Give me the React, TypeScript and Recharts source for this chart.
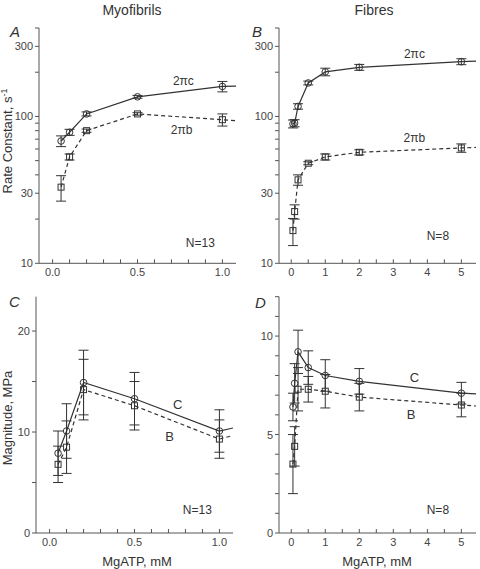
import React from 'react';
import {ErrorBar, Line, LineChart, ReferenceDot, XAxis, YAxis} from 'recharts';

const FONT = '"Liberation Sans", Arial, Helvetica, sans-serif';
const INK = '#333333';
const AXIS_INK = '#555555';
const TICK_INK = '#444444';

// MgATP concentrations, mM
const myofibrilConc = [0.05, 0.1, 0.2, 0.5, 1.0];
const fibreConc = [0.05, 0.1, 0.2, 0.5, 1, 2, 5];
// the fitted lines run on to the end of the x axis
const myofibrilTailConc = 1.08;
const fibreTailConc = 5.43;

// A: myofibril rate constants, s-1 (2πc, 2πb)
const myoRateC = [68, 78, 104, 136, 160];
const myoRateCErr = [5.7, 3.7, 3.3, 3, 13];
const myoRateB = [33, 53, 80, 104, 95];
const myoRateBErr = [6.5, 2.5, 2, 2, 9];
const myoRateTail = [161, 93.5];

// B: fibre rate constants, s-1
const fibreRateC = [89, 90, 117, 169, 201, 216, 236];
const fibreRateCErr = [5.5, 5, 5, 5, 12, 10, 11];
const fibreRateB = [16.7, 22.5, 37, 48, 53, 57, 61];
const fibreRateBErr = [3.5, 2.5, 3, 1.1, 2.5, 2.3, 4];
const fibreRateTail = [238, 61.5];

// C: myofibril magnitudes, MPa (C, B)
const myoMagC = [7.9, 10.1, 14.9, 13.3, 10.1];
const myoMagCErr = [2.2, 2.7, 3.2, 2.6, 2.1];
const myoMagB = [6.8, 8.5, 14.2, 12.6, 9.3];
const myoMagBErr = [1.8, 2.6, 3.0, 2.4, 1.9];
const myoMagTail = [10.4, 9.65];

// D: fibre magnitudes, MPa
const fibreMagC = [6.4, 7.6, 9.2, 8.4, 8.0, 7.7, 7.1];
const fibreMagCErr = [0.7, 1.0, 1.1, 0.85, 0.8, 0.65, 0.55];
const fibreMagB = [3.5, 4.4, 7.3, 7.3, 7.2, 6.9, 6.5];
const fibreMagBErr = [1.5, 1.0, 1.1, 0.65, 0.85, 0.7, 0.6];
const fibreMagTail = [7.07, 6.45];

// ticks
const myoTicks = [0, 0.1, 0.2, 0.3, 0.4, 0.5, 0.6, 0.7, 0.8, 0.9, 1.0];
const myoTickLabels = [0, 0.5, 1];
const fibreTicks = [0, 0.5, 1, 1.5, 2, 2.5, 3, 3.5, 4, 4.5, 5];
const fibreTickLabels = [0, 1, 2, 3, 4, 5];
const rateTicks = [10, 20, 30, 40, 50, 60, 70, 80, 90, 100, 200, 300, 400];
const rateTickLabels = [10, 30, 100, 300];
const myoMagTicks = [0, 5, 10, 15, 20];
const myoMagTickLabels = [0, 10, 20];
const fibreMagTicks = [0, 1, 2, 3, 4, 5, 6, 7, 8, 9, 10, 11, 12];
const fibreMagTickLabels = [0, 5, 10];

type Row = {x: number; c: number; cErr: number | null; b: number; bErr: number | null; mark: boolean};

function buildRows(xs: number[], c: number[], cErr: number[], b: number[], bErr: number[],
                   tailX: number, tail: number[]): Row[] {
    const rows: Row[] = xs.map((x, i) => ({x, c: c[i], cErr: cErr[i], b: b[i], bErr: bErr[i], mark: true}));
    rows.push({x: tailX, c: tail[0], cErr: null, b: tail[1], bErr: null, mark: false});
    return rows;
}

const hasLabel = (labels: number[], v: number) => labels.some(l => Math.abs(l - v) < 1e-9);

const xTick = (labels: number[], fmt: (v: number) => string) => (props: any) => {
    const {x, y, payload} = props;
    const v = payload.value;
    return (
        <g>
            <line x1={x} x2={x} y1={y} y2={y - 4} stroke={AXIS_INK}/>
            {hasLabel(labels, v) && (
                <text x={x} y={y + 13} textAnchor="middle" fontSize={11} fill={TICK_INK} fontFamily={FONT}>
                    {fmt(v)}
                </text>
            )}
        </g>
    );
};

const yTick = (labels: number[]) => (props: any) => {
    const {x, y, payload} = props;
    const v = payload.value;
    return (
        <g>
            <line x1={x - 4} x2={x} y1={y} y2={y} stroke={AXIS_INK}/>
            {hasLabel(labels, v) && (
                <text x={x - 6} y={y + 4} textAnchor="end" fontSize={11} fill={TICK_INK} fontFamily={FONT}>
                    {v}
                </text>
            )}
        </g>
    );
};

const circleDot = (props: any) => {
    const {cx, cy, payload, index} = props;
    if (!payload?.mark || cx == null || cy == null) return <g key={`c-${index}`}/>;
    return <circle key={`c-${index}`} cx={cx} cy={cy} r={3.3} fill="none" stroke={INK} strokeWidth={1}/>;
};

const squareDot = (props: any) => {
    const {cx, cy, payload, index} = props;
    if (!payload?.mark || cx == null || cy == null) return <g key={`s-${index}`}/>;
    return <rect key={`s-${index}`} x={cx - 3} y={cy - 3} width={6} height={6} fill="none" stroke={INK} strokeWidth={1}/>;
};

const note = (x: number, y: number, text: string, size = 12) => (
    <ReferenceDot x={x} y={y} r={0} fill="none" stroke="none" ifOverflow="visible"
                  label={{value: text, position: 'center', fill: INK, fontSize: size, fontFamily: FONT}}/>
);

type PanelProps = {
    left: number;
    top: number;
    width: number;
    height: number;
    // plot area edges, in px inside the panel
    plot: {top: number; right: number; bottom: number; left: number};
    rows: Row[];
    xDomain: [number, number];
    xTicks: number[];
    xLabels: number[];
    xFmt: (v: number) => string;
    yDomain: [number, number];
    yTicks: number[];
    yLabels: number[];
    logY?: boolean;
    children?: React.ReactNode;
};

function Panel(p: PanelProps) {
    // axes are 1px thick so that Recharts still draws them
    const margin = {
        top: p.plot.top,
        right: p.width - p.plot.right,
        bottom: p.height - p.plot.bottom - 1,
        left: p.plot.left - 1,
    };
    return (
        <div style={{position: 'absolute', left: p.left, top: p.top}}>
            <LineChart width={p.width} height={p.height} data={p.rows} margin={margin}>
                <XAxis type="number" dataKey="x" domain={p.xDomain} ticks={p.xTicks} interval={0}
                       allowDataOverflow height={1} tickSize={0} tickMargin={0} tickLine={false}
                       axisLine={{stroke: AXIS_INK}} tick={xTick(p.xLabels, p.xFmt)}/>
                <YAxis type="number" scale={p.logY ? 'log' : 'linear'} domain={p.yDomain} ticks={p.yTicks}
                       interval={0} allowDataOverflow width={1} tickSize={0} tickMargin={0} tickLine={false}
                       axisLine={{stroke: AXIS_INK}} tick={yTick(p.yLabels)}/>
                <Line type="linear" dataKey="c" stroke={INK} strokeWidth={1.2} dot={circleDot}
                      activeDot={false} isAnimationActive={false}>
                    <ErrorBar dataKey="cErr" direction="y" width={5} stroke={INK} strokeWidth={1}/>
                </Line>
                <Line type="linear" dataKey="b" stroke={INK} strokeWidth={1.2} strokeDasharray="4 3"
                      dot={squareDot} activeDot={false} isAnimationActive={false}>
                    <ErrorBar dataKey="bErr" direction="y" width={5} stroke={INK} strokeWidth={1}/>
                </Line>
                {p.children}
            </LineChart>
        </div>
    );
}

export default function App() {
    const rowsA = buildRows(myofibrilConc, myoRateC, myoRateCErr, myoRateB, myoRateBErr, myofibrilTailConc, myoRateTail);
    const rowsB = buildRows(fibreConc, fibreRateC, fibreRateCErr, fibreRateB, fibreRateBErr, fibreTailConc, fibreRateTail);
    const rowsC = buildRows(myofibrilConc, myoMagC, myoMagCErr, myoMagB, myoMagBErr, myofibrilTailConc, myoMagTail);
    const rowsD = buildRows(fibreConc, fibreMagC, fibreMagCErr, fibreMagB, fibreMagBErr, fibreTailConc, fibreMagTail);
    const fmtMyo = (v: number) => v.toFixed(1);
    const fmtFibre = (v: number) => String(v);

    return (
        <div style={{position: 'absolute', left: 0, top: 0, width: 480, height: 569, background: '#fff'}}>
            <Panel left={0} top={0} width={240} height={280} plot={{top: 28, right: 236, bottom: 263.3, left: 39}}
                   rows={rowsA} xDomain={[-0.08, 1.08]} xTicks={myoTicks} xLabels={myoTickLabels} xFmt={fmtMyo}
                   yDomain={[10, 400]} yTicks={rateTicks} yLabels={rateTickLabels} logY>
                {note(0.77, 175, '2πc')}
                {note(0.76, 81, '2πb')}
                {note(0.87, 13.7, 'N=13')}
            </Panel>
            <Panel left={240} top={0} width={240} height={280} plot={{top: 28, right: 236, bottom: 263.3, left: 39}}
                   rows={rowsB} xDomain={[-0.36, 5.43]} xTicks={fibreTicks} xLabels={fibreTickLabels} xFmt={fmtFibre}
                   yDomain={[10, 400]} yTicks={rateTicks} yLabels={rateTickLabels} logY>
                {note(3.62, 268, '2πc')}
                {note(3.62, 72, '2πb')}
                {note(4.31, 15.4, 'N=8')}
            </Panel>
            <Panel left={0} top={280} width={240} height={289} plot={{top: 16.7, right: 233, bottom: 253, left: 36}}
                   rows={rowsC} xDomain={[-0.08, 1.08]} xTicks={myoTicks} xLabels={myoTickLabels} xFmt={fmtMyo}
                   yDomain={[0, 23.4]} yTicks={myoMagTicks} yLabels={myoMagTickLabels}>
                {note(0.754, 12.7, 'C', 13)}
                {note(0.707, 9.6, 'B', 13)}
                {note(0.87, 2.3, 'N=13')}
            </Panel>
            <Panel left={240} top={280} width={240} height={289} plot={{top: 16.7, right: 236, bottom: 253, left: 39}}
                   rows={rowsD} xDomain={[-0.36, 5.43]} xTicks={fibreTicks} xLabels={fibreTickLabels} xFmt={fmtFibre}
                   yDomain={[0, 12]} yTicks={fibreMagTicks} yLabels={fibreMagTickLabels}>
                {note(3.62, 7.9, 'C', 13)}
                {note(3.52, 6.0, 'B', 13)}
                {note(4.31, 1.2, 'N=8')}
            </Panel>
            <svg width={480} height={569} style={{position: 'absolute', left: 0, top: 0, pointerEvents: 'none'}}
                 fontFamily={FONT} fill={INK}>
                <text x={132} y={15} textAnchor="middle" fontSize={14}>Myofibrils</text>
                <text x={374} y={15} textAnchor="middle" fontSize={14}>Fibres</text>
                <text x={10} y={37} fontSize={15} fontStyle="italic">A</text>
                <text x={252} y={37} fontSize={15} fontStyle="italic">B</text>
                <text x={9} y={307} fontSize={15} fontStyle="italic">C</text>
                <text x={255} y={308} fontSize={15} fontStyle="italic">D</text>
                <text transform="translate(11.5,141) rotate(-90)" textAnchor="middle" fontSize={13}>
                    Rate Constant, s<tspan dy={-5} fontSize={9}>-1</tspan>
                </text>
                <text transform="translate(11.5,418) rotate(-90)" textAnchor="middle" fontSize={13}>
                    Magnitude, MPa
                </text>
                <text x={137} y={566} textAnchor="middle" fontSize={13}>MgATP, mM</text>
                <text x={377} y={566} textAnchor="middle" fontSize={13}>MgATP, mM</text>
            </svg>
        </div>
    );
}
